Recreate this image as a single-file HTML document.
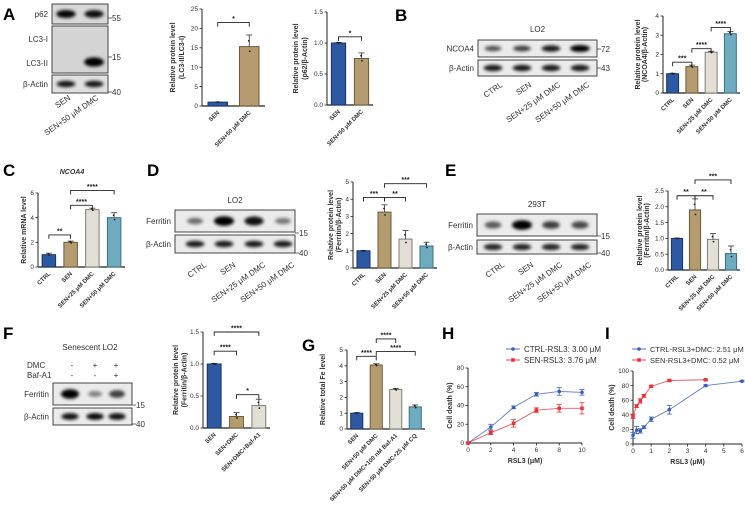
<!DOCTYPE html>
<html><head><meta charset="utf-8">
<style>
html,body{margin:0;padding:0;background:#fff;}
svg{display:block;font-family:"Liberation Sans",Arial,sans-serif;}
.pl{font-size:17px;font-weight:bold;}
.bl{font-size:8px;fill:#333;}
.tk{font-size:6.5px;fill:#333;}
.yl{font-size:7px;font-weight:bold;fill:#333;}
.xl{font-size:6px;font-weight:bold;fill:#333;}
.st{font-size:7px;font-weight:bold;fill:#222;}
</style></head>
<body>
<svg id="fig" width="745" height="510" viewBox="0 0 745 510" xmlns="http://www.w3.org/2000/svg">
<defs>
<filter id="blur" x="-30%" y="-100%" width="160%" height="300%"><feGaussianBlur stdDeviation="1.6"/></filter>
</defs>
<g id="static"></g>
</svg>
<script>
// ===== Data =====
const aLc3Cats=["SEN","SEN+50 μM DMC"]; const aLc3Vals=[1,15.3]; const aLc3Errs=[0.05,3.0]; const aLc3Ticks=[0,5,10,15,20,25];
const aP62Cats=["SEN","SEN+50 μM DMC"]; const aP62Vals=[1,0.75]; const aP62Errs=[0.01,0.09]; const aP62Ticks=[0,0.5,1.0,1.5];
const bCats=["CTRL","SEN","SEN+25 μM DMC","SEN+50 μM DMC"]; const bVals=[1,1.37,2.12,3.08]; const bErrs=[0.03,0.08,0.05,0.12]; const bTicks=[0,1,2,3,4];
const cCats=["CTRL","SEN","SEN+25 μM DMC","SEN+50 μM DMC"]; const cVals=[1,2.0,4.65,4.0]; const cErrs=[0.12,0.1,0.12,0.4]; const cTicks=[0,2,4,6];
const dCats=["CTRL","SEN","SEN+25 μM DMC","SEN+50 μM DMC"]; const dVals=[1,3.25,1.68,1.28]; const dErrs=[0.02,0.42,0.5,0.22]; const dTicks=[0,1,2,3,4,5];
const eCats=["CTRL","SEN","SEN+25 μM DMC","SEN+50 μM DMC"]; const eVals=[1,1.9,0.97,0.52]; const eErrs=[0.01,0.35,0.18,0.24]; const eTicks=[0,0.5,1.0,1.5,2.0,2.5];
const fCats=["SEN","SEN+DMC","SEN+DMC+Baf-A1"]; const fVals=[1,0.18,0.35]; const fErrs=[0.01,0.06,0.1]; const fTicks=[0,0.5,1.0,1.5];
const gCats=["SEN","SEN+50 μM DMC","SEN+50 μM DMC+100 nM Baf-A1","SEN+50 μM DMC+25 μM CQ"]; const gVals=[1,4.05,2.5,1.4]; const gErrs=[0.04,0.08,0.07,0.12]; const gTicks=[0,1,2,3,4,5];
const hX=[0,2,4,6,8,10]; const hCtrl=[0,17,38,52,55,54]; const hCtrlErr=[0,3,1.5,2,4,3]; const hSen=[0,11,21,35,37,37]; const hSenErr=[0,2,4,2.5,4,6]; const hTicksY=[0,20,40,60,80]; const hTicksX=[0,2,4,6,8,10];
const iCtrlX=[0,0.2,0.4,0.6,1,2,4,6]; const iCtrl=[12,19,18,23,34,47,80,86]; const iCtrlErr=[4,5,3,2,3,6,1,1]; const iSenX=[0,0.2,0.4,0.6,1,2,4]; const iSen=[38,52,59,66,79,87,88]; const iSenErr=[3,2,3,2,1,1,1]; const iTicksY=[0,20,40,60,80,100]; const iTicksX=[0,1,2,3,4,5,6];

const FILL=["#2d58a2","#b59c70","#e3dfd6","#6eabbf"];
const STROKE=["#17336b","#6f5a37","#7f7c76","#3b7085"];
const NS="http://www.w3.org/2000/svg";
const root=document.getElementById('static');
function el(tag,attrs,parent,text){const e=document.createElementNS(NS,tag);for(const k in attrs)e.setAttribute(k,attrs[k]);if(text!==undefined)e.textContent=text;(parent||root).appendChild(e);return e;}

function txt(x,y,s,cls,name,extra){const t=el('text',Object.assign({x:x,y:y,class:cls},extra||{}),root,s);


return t;}

[["A",3,20],["B",395,21],["C",3,176],["D",147,176],["E",445,176],["F",3,339],["G",302,351],["H",442,339],["I",605,339]].forEach(p=>{
 txt(p[1],p[2],p[0],'pl','panel-label-'+p[0].toLowerCase());
});

function barChart(o){
 const g=el('g',{});
 
 
 const max=o.ticks[o.ticks.length-1];
 const ys=v=>o.y0-(v/max)*(o.y0-o.yTop);
 const n=o.vals.length, step=(o.x1-o.x0)/n, bw=step*0.62;
 const xc=i=>o.x0+(i+0.5)*step;
 el('line',{x1:o.x0,y1:o.yTop,x2:o.x0,y2:o.y0,stroke:'#222','stroke-width':1},g);
 el('line',{x1:o.x0,y1:o.y0,x2:o.x1,y2:o.y0,stroke:'#222','stroke-width':1.2},g);
 o.ticks.forEach(t=>{
  el('line',{x1:o.x0-2.5,y1:ys(t),x2:o.x0,y2:ys(t),stroke:'#222','stroke-width':0.8},g);
  const lb=el('text',{x:o.x0-4,y:ys(t)+2.2,class:'tk','text-anchor':'end','font-size':o.tfs||6.5},g,o.tfmt?o.tfmt(t):t);
  
  
 });
 o.vals.forEach((v,i)=>{
  const r=el('rect',{x:xc(i)-bw/2,y:ys(v),width:bw,height:o.y0-ys(v),fill:FILL[o.col[i]],stroke:STROKE[o.col[i]],'stroke-width':1},g);
  
  
  const e=o.errs[i];
  el('line',{x1:xc(i),y1:ys(v),x2:xc(i),y2:ys(v+e),stroke:'#333','stroke-width':0.8},g);
  el('line',{x1:xc(i)-3,y1:ys(v+e),x2:xc(i)+3,y2:ys(v+e),stroke:'#333','stroke-width':0.8},g);
  el('circle',{cx:xc(i)+0.5,cy:ys(v-e*0.4),r:0.9,fill:'#222'},g);
  el('circle',{cx:xc(i)-0.5,cy:ys(v+e*0.5),r:0.9,fill:'#222'},g);
  const lb=el('text',{x:xc(i)+2,y:o.y0+7,class:'xl','text-anchor':'end','font-size':o.xfs||6,transform:`rotate(${o.rot||-45} ${xc(i)+2} ${o.y0+7})`},g,o.cats[i]);
  
  
 });
 (o.sig||[]).forEach(s=>{
  const a=xc(s[0]),b=xc(s[1]),y=ys(s[2]);
  el('polyline',{points:`${a},${y+4} ${a},${y} ${b},${y} ${b},${y+4}`,fill:'none',stroke:'#222','stroke-width':0.9},g);
  const st=el('text',{x:(a+b)/2,y:y-1.5,class:'st','text-anchor':'middle'},g,s[3]);
  
  
 });
 const cx=o.ylx, cy=(o.y0+o.yTop)/2;
 const yt=el('text',{x:cx,y:cy,class:'yl','text-anchor':'middle',transform:`rotate(-90 ${cx} ${cy})`,'font-size':o.yfs||7},g);
 
 
 o.ylab.forEach((l,k)=>{el('tspan',{x:cx,dy:k?(o.yfs||7)+1:0},yt,l);});
}

barChart({name:'chart-a-lc3',x0:202,x1:265,y0:106,yTop:9,ticks:aLc3Ticks,vals:aLc3Vals,errs:aLc3Errs,cats:aLc3Cats,col:[0,1],sig:[[0,1,21.5,'*']],ylx:175,ylab:['Relative protein level','(LC3-II/LC3-I)'],yfs:8,xfs:7,tfs:7});
barChart({name:'chart-a-p62',x0:327,x1:373,y0:105,yTop:12,ticks:aP62Ticks,vals:aP62Vals,errs:aP62Errs,cats:aP62Cats,col:[0,1],sig:[[0,1,1.1,'*']],ylx:298,ylab:['Relative protein level','(p62/β-Actin)'],yfs:8,xfs:7,tfs:7,tfmt:t=>t.toFixed(1)});
barChart({name:'chart-b-ncoa4',x0:663,x1:740,y0:93,yTop:16,ticks:bTicks,vals:bVals,errs:bErrs,cats:bCats,col:[0,1,2,3],sig:[[0,1,1.6,'***'],[1,2,2.3,'****'],[2,3,3.4,'****']],ylx:640,ylab:['Relative protein level','(NCOA4/β-Actin)'],yfs:6,xfs:5,tfs:6});
barChart({name:'chart-c-ncoa4-mrna',x0:38,x1:125,y0:267,yTop:193,ticks:cTicks,vals:cVals,errs:cErrs,cats:cCats,col:[0,1,2,3],sig:[[0,1,2.6,'**'],[1,2,5.0,'****'],[1,3,6.2,'****']],ylx:26,ylab:['Relative mRNA level'],yfs:6.5,xfs:5,tfs:6});
barChart({name:'chart-d-ferritin-lo2',x0:353,x1:437,y0:268,yTop:182,ticks:dTicks,vals:dVals,errs:dErrs,cats:dCats,col:[0,1,2,3],sig:[[0,1,4.1,'***'],[1,2,4.1,'**'],[1,3,4.9,'***']],ylx:333,ylab:['Relative protein level','(Ferritin/β-Actin)'],yfs:7,xfs:5.5,tfs:6});
barChart({name:'chart-e-ferritin-293t',x0:668,x1:740,y0:270,yTop:191,ticks:eTicks,vals:eVals,errs:eErrs,cats:eCats,col:[0,1,2,3],sig:[[0,1,2.35,'**'],[1,2,2.35,'**'],[1,3,2.85,'***']],ylx:642,ylab:['Relative protein level','(Ferritin/β-Actin)'],yfs:6,xfs:5,tfs:6,tfmt:t=>t.toFixed(1)});
barChart({name:'chart-f-ferritin',x0:203,x1:270,y0:428,yTop:332,ticks:fTicks,vals:fVals,errs:fErrs,cats:fCats,col:[0,1,2],sig:[[0,1,1.2,'****'],[1,2,0.52,'*'],[0,2,1.5,'****']],ylx:178,ylab:['Relative protein level','(Ferritin/β-Actin)'],yfs:7.5,xfs:6,tfs:7,tfmt:t=>t.toFixed(1)});
barChart({name:'chart-g-total-fe',x0:347,x1:425,y0:429,yTop:350,ticks:gTicks,vals:gVals,errs:gErrs,cats:gCats,col:[0,1,2,3],sig:[[0,1,4.6,'****'],[1,3,4.9,'****'],[1,2,5.7,'****']],ylx:325,ylab:['Relative total Fe level'],yfs:7,xfs:5.5,tfs:6});

function lineChart(o){
 const g=el('g',{});
 
 
 const xmax=o.tx[o.tx.length-1], ymax=o.ty[o.ty.length-1];
 const xs=v=>o.x0+v/xmax*(o.x1-o.x0), ys=v=>o.y0-v/ymax*(o.y0-o.yTop);
 el('line',{x1:o.x0,y1:o.yTop,x2:o.x0,y2:o.y0,stroke:'#222','stroke-width':1},g);
 el('line',{x1:o.x0,y1:o.y0,x2:o.x1,y2:o.y0,stroke:'#222','stroke-width':1},g);
 o.ty.forEach(t=>{el('line',{x1:o.x0-2.5,y1:ys(t),x2:o.x0,y2:ys(t),stroke:'#222','stroke-width':0.8},g);
  const l=el('text',{x:o.x0-4,y:ys(t)+2.2,class:'tk','text-anchor':'end'},g,t);
  
  });
 o.tx.forEach(t=>{el('line',{x1:xs(t),y1:o.y0,x2:xs(t),y2:o.y0+2.5,stroke:'#222','stroke-width':0.8},g);
  const l=el('text',{x:xs(t),y:o.y0+9,class:'tk','text-anchor':'middle'},g,t);
  
  });
 o.series.forEach((s,k)=>{
  const sg=el('g',{},g);
  
  
  el('polyline',{points:s.x.map((x,i)=>xs(x)+','+ys(s.y[i])).join(' '),fill:'none',stroke:s.c,'stroke-width':0.9,opacity:0.8},sg);
  s.x.forEach((x,i)=>{
   const e=s.e[i];
   if(e>0){el('line',{x1:xs(x),y1:ys(s.y[i]-e),x2:xs(x),y2:ys(s.y[i]+e),stroke:s.c,'stroke-width':0.8},sg);
   el('line',{x1:xs(x)-2.5,y1:ys(s.y[i]+e),x2:xs(x)+2.5,y2:ys(s.y[i]+e),stroke:s.c,'stroke-width':0.8},sg);
   el('line',{x1:xs(x)-2.5,y1:ys(s.y[i]-e),x2:xs(x)+2.5,y2:ys(s.y[i]-e),stroke:s.c,'stroke-width':0.8},sg);}
   const p=el(s.shape==='sq'?'rect':'circle',s.shape==='sq'?{x:xs(x)-1.8,y:ys(s.y[i])-1.8,width:3.6,height:3.6,fill:s.c}:{cx:xs(x),cy:ys(s.y[i]),r:1.8,fill:s.c},sg);
   
   
  });
  const ly=o.legY+k*11;
  el('line',{x1:o.legX-7,y1:ly,x2:o.legX+7,y2:ly,stroke:s.c,'stroke-width':0.9},g);
  el(s.shape==='sq'?'rect':'circle',s.shape==='sq'?{x:o.legX-1.8,y:ly-1.8,width:3.6,height:3.6,fill:s.c}:{cx:o.legX,cy:ly,r:1.8,fill:s.c},g);
  const lt=el('text',{x:o.legX+11,y:ly+3,'font-size':o.lfs||8,fill:'#333'},g,s.label);
  
  
 });
 const xt=el('text',{x:(o.x0+o.x1)/2,y:o.y0+20,class:'yl','text-anchor':'middle','font-size':7.5},g,'RSL3 (μM)');
 
 
 const cy=(o.y0+o.yTop)/2;
 const yt=el('text',{x:o.ylx,y:cy,class:'yl','text-anchor':'middle','font-size':7.5,transform:`rotate(-90 ${o.ylx} ${cy})`},g,'Cell death (%)');
 
 
}
lineChart({name:'chart-h-cell-death',x0:468,x1:582,y0:443,yTop:368,tx:hTicksX,ty:hTicksY,ylx:452,legX:513,legY:349,series:[
 {key:'ctrl',x:hX,y:hCtrl,e:hCtrlErr,c:'#3b5fb8',shape:'c',label:'CTRL-RSL3: 3.00 μM'},
 {key:'sen',x:hX,y:hSen,e:hSenErr,c:'#e8333b',shape:'sq',label:'SEN-RSL3: 3.76 μM'}]});
lineChart({name:'chart-i-cell-death-dmc',x0:633,x1:742,y0:444,yTop:371,tx:iTicksX,ty:iTicksY,ylx:614,legX:639,legY:349,lfs:7.5,series:[
 {key:'ctrl',x:iCtrlX,y:iCtrl,e:iCtrlErr,c:'#3b5fb8',shape:'c',label:'CTRL-RSL3+DMC: 2.51 μM'},
 {key:'sen',x:iSenX,y:iSen,e:iSenErr,c:'#e8333b',shape:'sq',label:'SEN-RSL3+DMC: 0.52 μM'}]});

function blot(o){
 const g=el('g',{});
 
 
 o.rows.forEach(r=>{
  el('rect',{x:o.x0,y:r.y0,width:o.x1-o.x0,height:r.y1-r.y0,fill:r.bg||'#ebebeb',stroke:'#444','stroke-width':1},g);
  r.bands.forEach((b,i)=>{ if(b<=0) return;
   el('ellipse',{cx:o.lanes[i],cy:r.by||(r.y0+r.y1)/2,rx:o.bw*(0.7+0.3*b),ry:(r.bh||3)*(0.6+0.6*b),fill:'#000',opacity:Math.min(1,0.25+0.8*b),filter:'url(#blur)'},g);
  });
  (r.labels||[[r.label,(r.y0+r.y1)/2]]).forEach(l=>{
   const t=el('text',{x:o.x0-4,y:l[1]+3,class:'bl','text-anchor':'end','font-size':o.lfs||8},g,l[0]);
   
   
  });
 });
 (o.markers||[]).forEach(m=>{
  el('line',{x1:o.x1,y1:m[1],x2:o.x1+4,y2:m[1],stroke:'#444','stroke-width':0.8},g);
  const t=el('text',{x:o.x1+4,y:m[1]+3,class:'bl','font-size':9},g,m[0]);
  
  
 });
 (o.laneLabels||[]).forEach((l,i)=>{
  const x=o.lanes[i]+(o.lo||6), y=o.ly;
  const t=el('text',{x:x,y:y,class:'bl','text-anchor':'end','font-size':o.lls||8,transform:`rotate(${o.rot||-35} ${x} ${y})`},g,l);
  
  
 });
 if(o.title){const t=el('text',{x:(o.x0+o.x1)/2,y:o.ty,class:'bl','text-anchor':'middle','font-size':8.5},g,o.title);
  
  }
}
blot({name:'blot-a',x0:52,x1:108,lanes:[66,94],bw:10,lfs:7,rows:[
 {y0:4,y1:24,label:'p62',bands:[0.9,0.85],bg:'#d8d8d8',bh:3.5},
 {y0:26,y1:73,bands:[0,0.95],by:62,bg:'#d4d4d4',bh:4,labels:[['LC3-I',39],['LC3-II',63]]},
 {y0:75,y1:93,label:'β-Actin',bands:[0.8,0.8],bg:'#e0e0e0'}],
 markers:[['55',18],['15',57],['40',92]],laneLabels:['SEN','SEN+50 μM DMC'],ly:99,lo:5,lls:6,rot:-35});
blot({name:'blot-b',x0:478,x1:597,lanes:[493,522,551,580],bw:10,title:'LO2',ty:32,rows:[
 {y0:40,y1:57,label:'NCOA4',bands:[0.5,0.6,0.8,0.95]},
 {y0:60,y1:76,label:'β-Actin',bands:[0.8,0.8,0.8,0.8]}],
 markers:[['72',49],['43',68]],laneLabels:['CTRL','SEN','SEN+25 μM DMC','SEN+50 μM DMC'],ly:86,lo:10});
blot({name:'blot-d',x0:175,x1:295,lanes:[195,224,254,283],bw:10,title:'LO2',ty:203,rows:[
 {y0:210,y1:232,label:'Ferritin',bands:[0.35,1,0.85,0.3],bh:4},
 {y0:235,y1:253,label:'β-Actin',bands:[0.8,0.8,0.8,0.8]}],
 markers:[['15',233],['40',253]],laneLabels:['CTRL','SEN','SEN+25 μM DMC','SEN+50 μM DMC'],ly:266,lo:12,lls:9});
blot({name:'blot-e',x0:477,x1:597,lanes:[493,522,551,580],bw:10,title:'293T',ty:207,rows:[
 {y0:214,y1:236,label:'Ferritin',bands:[0.45,1,0.6,0.55],bh:4},
 {y0:240,y1:254,label:'β-Actin',bands:[0.75,0.75,0.75,0.75]}],
 markers:[['15',236],['40',253]],laneLabels:['CTRL','SEN','SEN+25 μM DMC','SEN+50 μM DMC'],ly:266,lo:12,lls:9});
blot({name:'blot-f',x0:53,x1:132,lanes:[70,95,117],bw:9,rows:[
 {y0:383,y1:405,label:'Ferritin',bands:[1,0.25,0.6],bh:4},
 {y0:408,y1:425,label:'β-Actin',bands:[0.85,0.9,0.85]}],
 markers:[['15',405],['40',424]]});
txt(90,350,'Senescent LO2','bl','blot-f-title',{'text-anchor':'middle','font-size':8});
txt(27,368,'DMC','bl','treatment-label-dmc',{'font-size':8});
txt(27,378,'Baf-A1','bl','treatment-label-baf',{'font-size':8});
['-','+','+'].forEach((s,i)=>txt([72,95,116][i],368,s,'bl','dmc-sign',{'text-anchor':'middle'}));
['-','-','+'].forEach((s,i)=>txt([72,95,116][i],378,s,'bl','baf-sign',{'text-anchor':'middle'}));
txt(72,174,'NCOA4','yl','chart-c-title',{'text-anchor':'middle','font-style':'italic','font-size':7});
</script>
</body></html>
